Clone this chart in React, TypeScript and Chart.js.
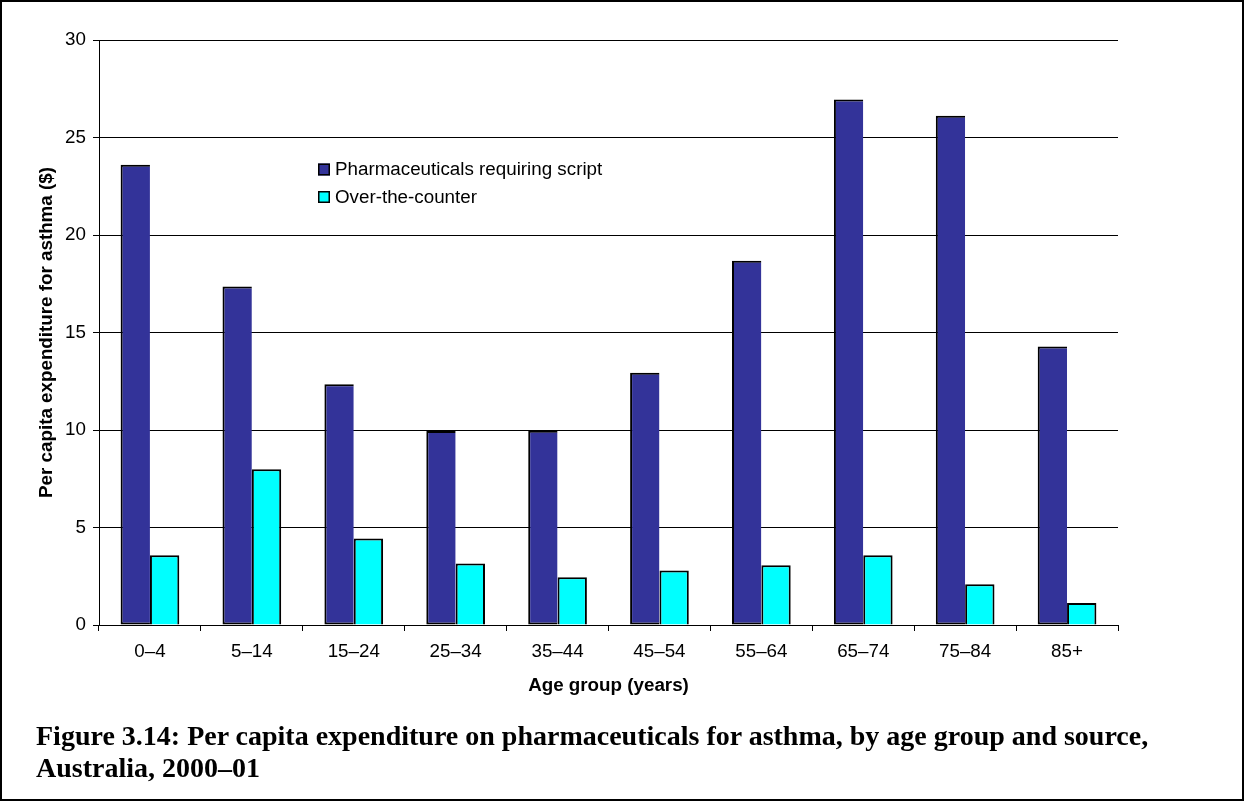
import React, { useEffect, useRef } from "react";
import { Chart, registerables } from "chart.js";

Chart.register(...registerables);

const categories = ["0–4", "5–14", "15–24", "25–34", "35–44", "45–54", "55–64", "65–74", "75–84", "85+"];
const scriptValues = [23.6, 17.36, 12.35, 9.95, 9.96, 12.93, 18.68, 26.95, 26.12, 14.28];
const otcValues = [3.58, 7.99, 4.43, 3.15, 2.45, 2.79, 3.06, 3.58, 2.09, 1.13];
const seriesNames = ["Pharmaceuticals requiring script", "Over-the-counter"];
const seriesColors = ["#333399", "#00FFFF"];
const yTicks = [0, 5, 10, 15, 20, 25, 30];
const yAxisTitle = "Per capita expenditure for asthma ($)";
const xAxisTitle = "Age group (years)";
const captionLines = [
  "Figure 3.14: Per capita expenditure on pharmaceuticals for asthma, by age group and source,",
  "Australia, 2000–01",
];

const SANS = '"Liberation Sans", Arial, sans-serif';
const FONT_SIZE = 18.8;

const LEGEND_X = 318;
const LEGEND_Y = 169.5;
const LEGEND_ROW = 27.5;

const insideLegend = {
  id: "insideLegend",
  afterDraw(chart: any) {
    const ctx = chart.ctx as CanvasRenderingContext2D;
    ctx.save();
    chart.data.datasets.forEach((ds: any, i: number) => {
      const y = LEGEND_Y + i * LEGEND_ROW;
      ctx.fillStyle = ds.backgroundColor;
      ctx.fillRect(LEGEND_X, y - 6, 12, 12);
      ctx.strokeStyle = "#000";
      ctx.lineWidth = 1.5;
      ctx.strokeRect(LEGEND_X + 0.75, y - 5.25, 10.5, 10.5);
      ctx.fillStyle = "#000";
      ctx.font = `${FONT_SIZE}px ${SANS}`;
      ctx.textBaseline = "middle";
      ctx.textAlign = "left";
      ctx.fillText(ds.label, LEGEND_X + 17, y + 0.5);
    });
    ctx.restore();
  },
};

export default function App() {
  const canvasRef = useRef<HTMLCanvasElement | null>(null);

  useEffect(() => {
    if (!canvasRef.current) return;
    const tickFont = { family: SANS, size: FONT_SIZE };
    const titleFont = { family: SANS, size: FONT_SIZE, weight: "bold" as const };
    const chart = new Chart(canvasRef.current, {
      type: "bar",
      data: {
        labels: categories,
        datasets: [
          {
            label: seriesNames[0],
            data: scriptValues,
            backgroundColor: seriesColors[0],
            borderColor: "#000",
            borderWidth: 2,
            borderSkipped: "right",
            categoryPercentage: 0.576,
            barPercentage: 1,
          },
          {
            label: seriesNames[1],
            data: otcValues,
            backgroundColor: seriesColors[1],
            borderColor: "#000",
            borderWidth: 2,
            categoryPercentage: 0.576,
            barPercentage: 1,
          },
        ],
      },
      options: {
        responsive: false,
        animation: false,
        events: [],
        layout: { padding: { left: 30, right: 126, top: 40, bottom: 96 } },
        plugins: {
          legend: { display: false },
          tooltip: { enabled: false },
          title: { display: false },
        },
        scales: {
          x: {
            grid: { drawOnChartArea: false, color: "#000", tickLength: 6, offset: true, lineWidth: 1 },
            border: { color: "#000", width: 1 },
            ticks: { color: "#000", font: tickFont, padding: 10, maxRotation: 0, autoSkip: false },
            title: {
              display: true,
              text: xAxisTitle,
              color: "#000",
              font: titleFont,
              padding: { top: 0, bottom: 8 },
            },
            afterFit(scale: any) {
              scale.height = 80;
            },
          },
          y: {
            min: 0,
            max: 30,
            ticks: { color: "#000", font: tickFont, padding: 7, stepSize: 5 },
            afterBuildTicks(scale: any) {
              scale.ticks = yTicks.map((v) => ({ value: v }));
            },
            grid: { color: "#000", tickLength: 6, lineWidth: 1 },
            border: { color: "#000", width: 1 },
            title: {
              display: true,
              text: yAxisTitle,
              color: "#000",
              font: titleFont,
              padding: { top: 6, bottom: 0 },
            },
            afterFit(scale: any) {
              scale.width = 69;
            },
          },
        },
      },
      plugins: [insideLegend],
    });
    return () => chart.destroy();
  }, []);

  return (
    <div
      style={{
        position: "absolute",
        left: 0,
        top: 0,
        width: 1244,
        height: 801,
        background: "#fff",
        overflow: "hidden",
      }}
    >
      <canvas
        ref={canvasRef}
        width={1244}
        height={801}
        style={{ position: "absolute", left: 0, top: 0, width: 1244, height: 801, display: "block" }}
      />
      <div
        style={{
          position: "absolute",
          left: 36,
          top: 720,
          fontFamily: '"Liberation Serif", "Times New Roman", serif',
          fontWeight: "bold",
          fontSize: 28,
          lineHeight: "32px",
          color: "#000",
          whiteSpace: "nowrap",
        }}
      >
        {captionLines.map((l, i) => (
          <div key={i}>{l}</div>
        ))}
      </div>
      <div
        style={{
          position: "absolute",
          left: 0,
          top: 0,
          width: 1244,
          height: 801,
          boxSizing: "border-box",
          border: "2px solid #000",
          pointerEvents: "none",
        }}
      />
    </div>
  );
}
